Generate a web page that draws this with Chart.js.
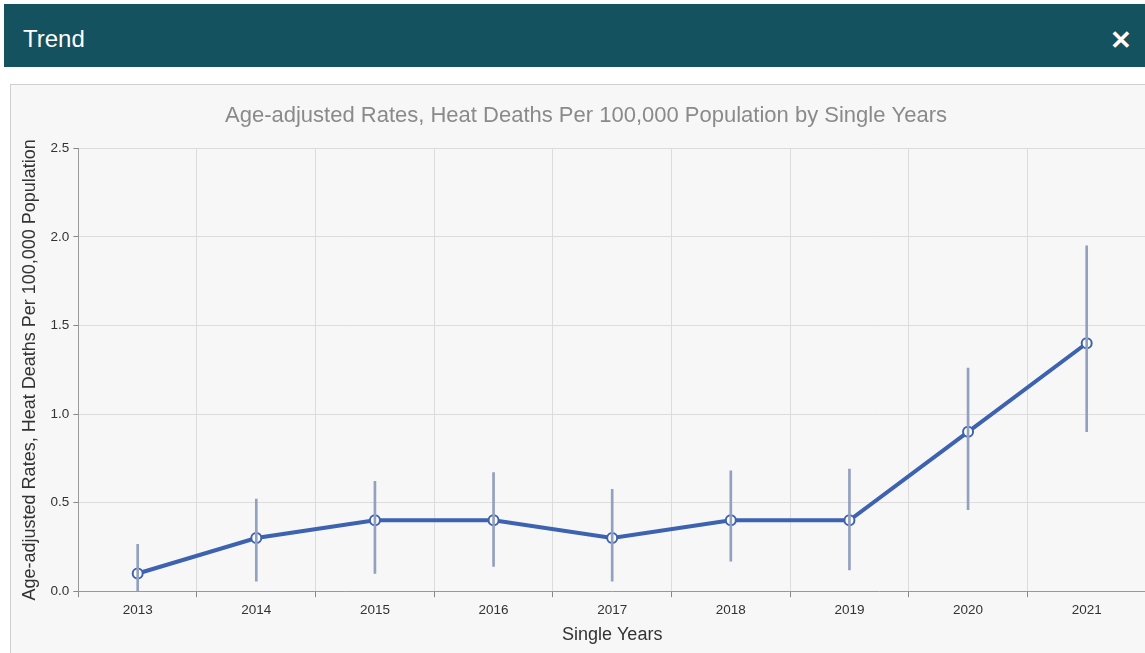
<!DOCTYPE html>
<html><head><meta charset="utf-8">
<script src="https://cdn.jsdelivr.net/npm/chart.js@4/dist/chart.umd.min.js"></script>
<style>
html,body{margin:0;padding:0;background:#fff;width:1145px;height:653px;overflow:hidden;font-family:"Liberation Sans",Arial,sans-serif;}
#hdr{position:absolute;left:4px;top:4px;width:1141px;height:63px;background:#13525e;color:#fff;}
#hdr .t{position:absolute;left:19px;top:21px;font-size:24px;line-height:28px;}
#hdr .x{position:absolute;left:1106px;top:22px;font-size:26px;line-height:28px;font-weight:bold;}
#panel{position:absolute;left:10px;top:84px;width:1160px;height:580px;background:#f7f7f7;border:1px solid #cfcfcf;}
#wrap{position:absolute;left:11px;top:85px;width:1142px;height:568px;}
</style></head>
<body>
<div id="hdr"><span class="t">Trend</span><span class="x">✕</span></div>
<div id="panel"></div>
<div id="wrap"><canvas id="c"></canvas></div>
<script>
const years = ['2013','2014','2015','2016','2017','2018','2019','2020','2021'];
const rates = [0.1, 0.3, 0.4, 0.4, 0.3, 0.4, 0.4, 0.9, 1.4];
const lowerCI = [0.0, 0.056, 0.10, 0.14, 0.056, 0.17, 0.12, 0.46, 0.90];
const upperCI = [0.265, 0.52, 0.62, 0.67, 0.575, 0.68, 0.69, 1.26, 1.95];
const yTicks = [0, 0.5, 1.0, 1.5, 2.0, 2.5];

const errData = lowerCI.map((l, i) => [l, upperCI[i]]);
const FONT = "'Liberation Sans', Arial, sans-serif";

new Chart(document.getElementById('c'), {
  data: {
    labels: years,
    datasets: [
      {
        type: 'bar', data: errData, backgroundColor: '#93a0c0', borderWidth: 0,
        barThickness: 2, order: 0
      },
      {
        type: 'line', data: rates, borderColor: '#3d62b0', borderWidth: 4,
        pointRadius: 5, pointBorderWidth: 2, pointBackgroundColor: '#ffffff',
        pointBorderColor: '#3d62b0', tension: 0, fill: false, order: 1
      }
    ]
  },
  options: {
    responsive: true, maintainAspectRatio: false, animation: false,
    layout: { padding: { left: 8, right: 0, top: 13, bottom: 7 } },
    plugins: {
      legend: { display: false }, tooltip: { enabled: false },
      title: {
        display: true,
        text: 'Age-adjusted Rates, Heat Deaths Per 100,000 Population by Single Years',
        color: '#8a8a8a', font: { family: FONT, size: 22, weight: 'normal' },
        padding: { top: 5, bottom: 19 }
      }
    },
    scales: {
      x: {
        offset: true,
        grid: { offset: true, color: '#dcdcdc', tickColor: '#888', tickLength: 6, drawTicks: true },
        border: { color: '#999', width: 1 },
        ticks: { color: '#333', font: { family: FONT, size: 13.5 }, padding: 5 },
        title: { display: true, text: 'Single Years', color: '#333', font: { family: FONT, size: 18 }, padding: { top: 1, bottom: 0 } }
      },
      y: {
        min: 0, max: 2.5,
        afterBuildTicks: (s) => { s.ticks = yTicks.map(v => ({ value: v })); },
        grid: { color: '#dcdcdc', tickColor: '#888', tickLength: 5 },
        border: { color: '#999', width: 1 },
        ticks: { color: '#333', font: { family: FONT, size: 13.5 }, padding: 4, callback: (v) => Number(v).toFixed(1) },
        title: { display: true, text: 'Age-adjusted Rates, Heat Deaths Per 100,000 Population', color: '#333', font: { family: FONT, size: 18 }, padding: { top: 0, bottom: 6 } }
      }
    }
  }
});
</script>
</body></html>
